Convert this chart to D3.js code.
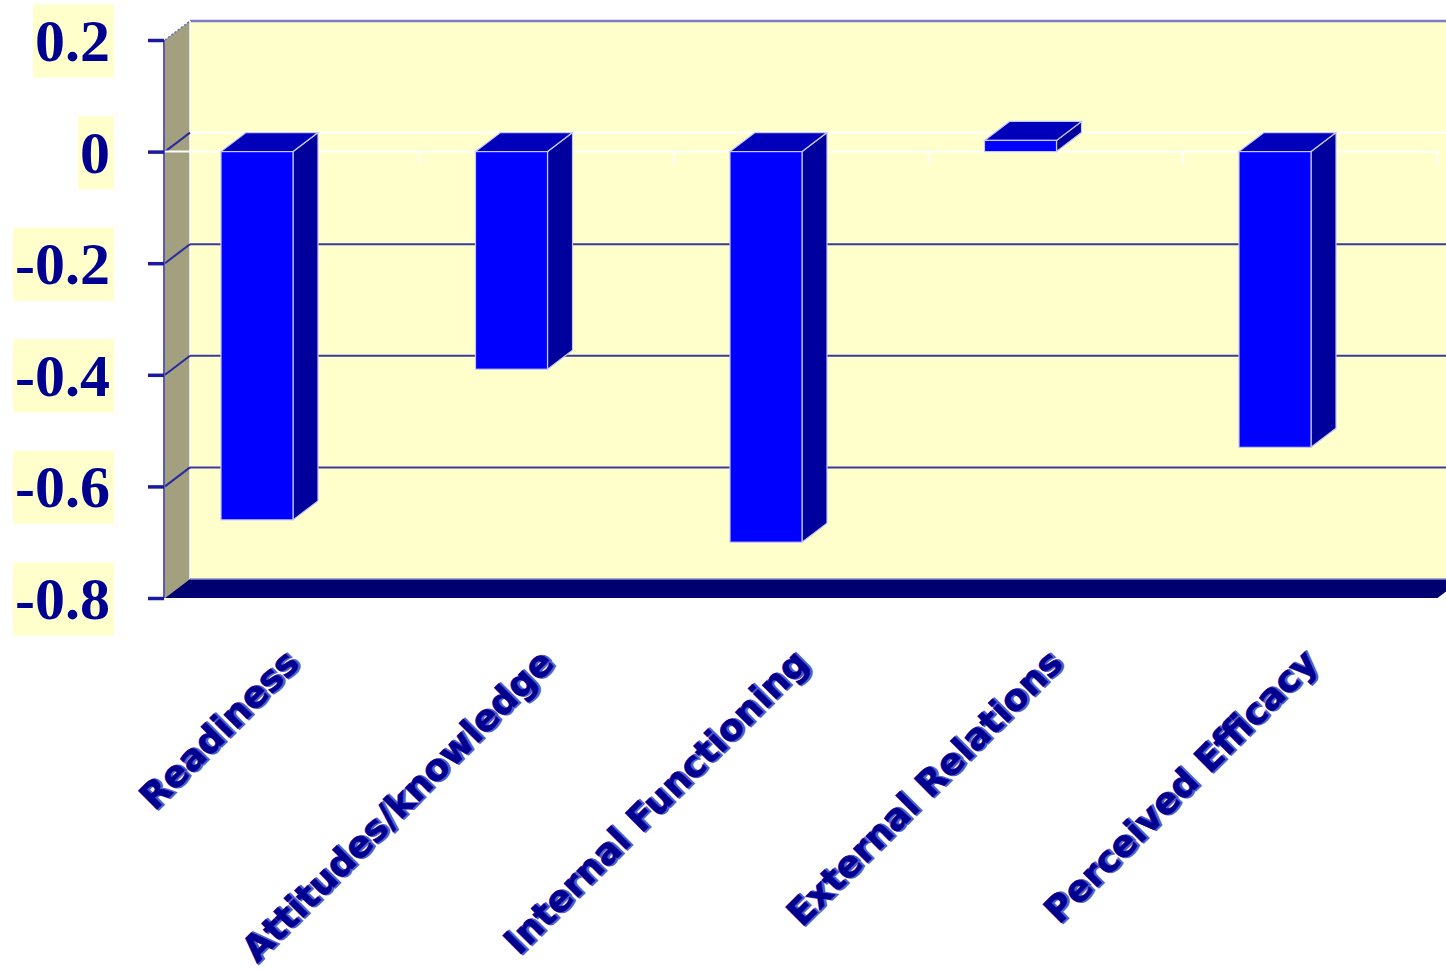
<!DOCTYPE html>
<html>
<head>
<meta charset="utf-8">
<script src="https://cdn.jsdelivr.net/npm/d3@7/dist/d3.min.js"></script>
<style>
  html, body { margin: 0; padding: 0; background: #ffffff; }
  svg { display: block; }
</style>
</head>
<body>
<svg id="chart" width="1446" height="970"></svg>
<script>
// Category names and mean change per scale
const categories = ["Readiness", "Attitudes/knowledge", "Internal Functioning", "External Relations", "Perceived Efficacy"];
const values = [-0.66, -0.39, -0.70, 0.02, -0.53];
const tickValues = [0.2, 0, -0.2, -0.4, -0.6, -0.8];
const tickLabels = ["0.2", "0", "-0.2", "-0.4", "-0.6", "-0.8"];

const svg = d3.select("#chart");

// Front plane of the 3-D box, and the depth offset to the back wall
const plotLeft = 165, plotRight = 1437.5, plotTop = 40, plotBottom = 598;
const dx = 25, dy = -19;

const y = d3.scaleLinear().domain([-0.8, 0.2]).range([plotBottom, plotTop]);
const x = d3.scaleBand().domain(categories).range([plotLeft, plotRight]).padding(0);
const slot = x.bandwidth();
const barOffset = slot * 0.22, barWidth = slot * 0.283;

const navy = "#000090";
const line = d3.line();

// Back wall
svg.append("rect")
  .attr("x", plotLeft + dx).attr("y", plotTop + dy)
  .attr("width", 1446 - (plotLeft + dx) + 10).attr("height", plotBottom - plotTop)
  .attr("fill", "#ffffcc");
svg.append("line")
  .attr("x1", plotLeft + dx).attr("x2", 1446)
  .attr("y1", plotTop + dy).attr("y2", plotTop + dy)
  .attr("stroke", "#7c7cc4").attr("stroke-width", 2.5);

// Left side wall
svg.append("path")
  .attr("d", line([[plotLeft, plotTop], [plotLeft + dx, plotTop + dy], [plotLeft + dx, plotBottom + dy], [plotLeft, plotBottom]]) + "Z")
  .attr("fill", "#a3a07f");
svg.append("line")
  .attr("x1", plotLeft + dx).attr("x2", plotLeft + dx)
  .attr("y1", plotTop + dy).attr("y2", plotBottom + dy)
  .attr("stroke", "#ffffff").attr("stroke-width", 1.5);
svg.append("line")
  .attr("x1", plotLeft).attr("y1", plotTop).attr("x2", plotLeft + dx).attr("y2", plotTop + dy)
  .attr("stroke", "#6a6ac0").attr("stroke-width", 1.5).attr("stroke-dasharray", "2,2");

// Gridlines on back wall and side wall
const grid = [-0.2, -0.4, -0.6];
grid.forEach(v => {
  svg.append("line")
    .attr("x1", plotLeft + dx).attr("x2", 1446)
    .attr("y1", y(v) + dy).attr("y2", y(v) + dy)
    .attr("stroke", "#3a3a9c").attr("stroke-width", 2);
  svg.append("line")
    .attr("x1", plotLeft).attr("y1", y(v)).attr("x2", plotLeft + dx).attr("y2", y(v) + dy)
    .attr("stroke", "#2a2aa0").attr("stroke-width", 2);
});
// Zero line: white on the back wall, dark on the side wall
svg.append("line")
  .attr("x1", plotLeft + dx).attr("x2", 1446)
  .attr("y1", y(0) + dy).attr("y2", y(0) + dy)
  .attr("stroke", "#ffffff").attr("stroke-width", 2);
svg.append("line")
  .attr("x1", plotLeft).attr("y1", y(0)).attr("x2", plotLeft + dx).attr("y2", y(0) + dy)
  .attr("stroke", "#2a2aa0").attr("stroke-width", 2);

// Floor slab
svg.append("path")
  .attr("d", line([[plotLeft, plotBottom], [plotRight, plotBottom], [plotRight + dx, plotBottom + dy], [plotLeft + dx, plotBottom + dy]]) + "Z")
  .attr("fill", "#000070");
svg.append("line")
  .attr("x1", plotLeft + dx).attr("x2", 1446)
  .attr("y1", plotBottom + dy).attr("y2", plotBottom + dy)
  .attr("stroke", "#8a8ac8").attr("stroke-width", 1.5);

// Category axis along zero, with white tick marks between categories
svg.append("line")
  .attr("x1", plotLeft).attr("x2", plotRight)
  .attr("y1", y(0)).attr("y2", y(0))
  .attr("stroke", "#ffffff").attr("stroke-width", 2);
categories.forEach(c => {
  const bx = x(c) + slot;
  svg.append("line")
    .attr("x1", bx).attr("x2", bx)
    .attr("y1", y(0)).attr("y2", y(0) + 13)
    .attr("stroke", "#ffffff").attr("stroke-width", 2);
});

// 3-D bars
const edge = "#c8c8f4";
const bars = svg.append("g");
categories.forEach((c, i) => {
  const v = values[i];
  const x0 = x(c) + barOffset, x1 = x0 + barWidth;
  const yTop = y(Math.max(0, v)), yBot = y(Math.min(0, v));
  const g = bars.append("g");
  // side face
  g.append("path")
    .attr("d", line([[x1, yTop], [x1 + dx, yTop + dy], [x1 + dx, yBot + dy], [x1, yBot]]) + "Z")
    .attr("fill", "#00009c").attr("stroke", edge).attr("stroke-width", 1.2);
  // top face
  g.append("path")
    .attr("d", line([[x0, yTop], [x0 + dx, yTop + dy], [x1 + dx, yTop + dy], [x1, yTop]]) + "Z")
    .attr("fill", "#0000bb").attr("stroke", edge).attr("stroke-width", 1.2);
  // front face
  g.append("rect")
    .attr("x", x0).attr("y", yTop)
    .attr("width", barWidth).attr("height", yBot - yTop)
    .attr("fill", "#0000ff").attr("stroke", edge).attr("stroke-width", 1.2);
});

// Value axis
svg.append("line")
  .attr("x1", plotLeft - 1).attr("x2", plotLeft - 1)
  .attr("y1", plotTop).attr("y2", plotBottom)
  .attr("stroke", "#5a5abc").attr("stroke-width", 2);

const yAxis = d3.axisLeft(y)
  .tickValues(tickValues)
  .tickSize(16)
  .tickFormat((d, i) => tickLabels[i]);
const axisG = svg.append("g")
  .attr("transform", `translate(${plotLeft - 1},0)`)
  .call(yAxis);
axisG.select(".domain").remove();
axisG.selectAll(".tick line").attr("stroke", "#1a1aa0").attr("stroke-width", 3.5);
axisG.selectAll(".tick text")
  .attr("x", -54)
  .attr("dy", "0.34em")
  .attr("font-family", "'Liberation Serif', 'Times New Roman', serif")
  .attr("font-weight", "bold")
  .attr("font-size", 60)
  .attr("fill", navy);
// cream label boxes
axisG.selectAll(".tick").each(function () {
  const t = d3.select(this).select("text");
  const bb = t.node().getBBox();
  d3.select(this).insert("rect", "text")
    .attr("x", bb.x - 2).attr("y", -36)
    .attr("width", bb.width + 6).attr("height", 73)
    .attr("fill", "#ffffcc");
});

// Rotated category labels with a light embossed edge
const labels = svg.append("g");
categories.forEach(c => {
  const ax = x(c) + slot / 2 + 9, ay = 665;
  const t = labels.append("g").attr("transform", `translate(${ax},${ay}) rotate(-45)`);
  t.append("text")
    .attr("text-anchor", "end")
    .attr("x", 1.2).attr("y", 1.2)
    .attr("font-family", "'DejaVu Sans', Verdana, sans-serif")
    .attr("font-weight", "bold")
    .attr("font-size", 36)
    .attr("fill", "#5c5cc8")
    .attr("stroke", "#5c5cc8").attr("stroke-width", 2.4)
    .text(c);
  t.append("text")
    .attr("text-anchor", "end")
    .attr("font-family", "'DejaVu Sans', Verdana, sans-serif")
    .attr("font-weight", "bold")
    .attr("font-size", 36)
    .attr("fill", navy)
    .attr("stroke", navy).attr("stroke-width", 0.6)
    .text(c);
});
</script>
</body>
</html>
